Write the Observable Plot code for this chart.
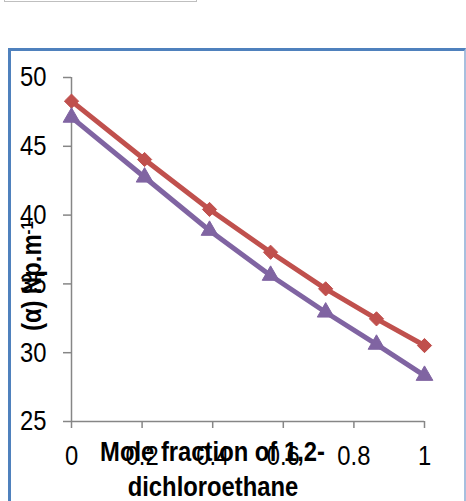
<!DOCTYPE html>
<html><head><meta charset="utf-8">
<script src="https://cdn.jsdelivr.net/npm/d3@7"></script>
<script src="https://cdn.jsdelivr.net/npm/@observablehq/plot@0.6"></script>
<style>
html,body{margin:0;padding:0;background:#fff;}
#wrap{position:relative;width:466px;height:501px;overflow:hidden;background:#fff;}
#wrap svg{position:absolute;left:0;top:0;z-index:1;}
.topbox{position:absolute;left:4px;top:-18px;width:193px;height:20px;border:1.5px solid #bfbfbf;box-sizing:border-box;z-index:2;}
.frame{position:absolute;left:8px;top:48px;width:458px;height:520px;box-sizing:border-box;border-left:3px solid #4f81bd;border-top:3px solid #4f81bd;border-right:2px solid #a7bfde;pointer-events:none;z-index:2;}
</style></head><body><div id="wrap"><div class="topbox"></div><div class="frame"></div></div>
<script>
const moleFraction = [0, 0.207, 0.391, 0.564, 0.720, 0.864, 1];
const alphaRed = [48.28, 44.04, 40.41, 37.30, 34.64, 32.46, 30.52];
const alphaPurple = [47.1, 42.75, 38.88, 35.61, 32.94, 30.60, 28.34];
const xTicks = [0, 0.2, 0.4, 0.6, 0.8, 1];
const yTicks = [25, 30, 35, 40, 45, 50];
const xTitle = ["Mole fraction of 1,2-", "dichloroethane"];
const yTitle = "(α) Np.m";
const yTitleSup = "-1";

const RED = "#c0504d", PURPLE = "#8064a2", AXIS = "#868686";
const redRows = moleFraction.map((x, i) => ({x, y: alphaRed[i]}));
const purpleRows = moleFraction.map((x, i) => ({x, y: alphaPurple[i]}));

const diamond = {
  draw(ctx, size) {
    const r = Math.sqrt(size) * 0.62625;
    ctx.moveTo(0, -r); ctx.lineTo(r, 0); ctx.lineTo(0, r); ctx.lineTo(-r, 0); ctx.closePath();
  }
};

const plot = Plot.plot({
  width: 466, height: 501,
  marginLeft: 71, marginRight: 42, marginTop: 77, marginBottom: 80,
  style: {fontFamily: "'Liberation Sans', Arial, sans-serif", background: "transparent", overflow: "visible"},
  x: {domain: [0, 1]},
  y: {domain: [25, 50]},
  marks: [
    Plot.axisY({ticks: yTicks, tickSize: 8, tickPadding: 17, stroke: AXIS, strokeWidth: 1.5, fill: "black", fontSize: 28, label: null, tickFormat: d => String(d)}),
    Plot.axisX({ticks: xTicks, tickSize: 7, tickPadding: 17, stroke: AXIS, strokeWidth: 1.5, fill: "black", fontSize: 28, label: null, tickFormat: d => String(d)}),
    Plot.ruleX([0], {stroke: AXIS, strokeWidth: 1.5}),
    Plot.ruleY([25], {stroke: AXIS, strokeWidth: 1.5}),
    Plot.line(redRows, {x: "x", y: "y", stroke: RED, strokeWidth: 5}),
    Plot.dot(redRows, {x: "x", y: "y", symbol: diamond, r: 6.4, fill: RED, stroke: RED, strokeWidth: 1}),
    Plot.line(purpleRows, {x: "x", y: "y", stroke: PURPLE, strokeWidth: 5}),
    Plot.dot(purpleRows, {x: "x", y: "y", symbol: "triangle", r: 6.2, fill: PURPLE, stroke: PURPLE, strokeWidth: 1}),
    Plot.text([xTitle[0]], {text: d => d, frameAnchor: "bottom", dx: -35.5, dy: 20, lineAnchor: "top", fontSize: 28, fontWeight: "bold", fill: "black"}),
    Plot.text([xTitle[1]], {text: d => d, frameAnchor: "bottom", dx: -35, dy: 54.5, lineAnchor: "top", fontSize: 28, fontWeight: "bold", fill: "black"}),
    Plot.text([yTitle], {text: d => d, frameAnchor: "left", dx: -33, dy: 27, rotate: -90, lineAnchor: "middle", fontSize: 28, fontWeight: "bold", fill: "black"})
  ]
});

document.getElementById("wrap").appendChild(plot);

let yTitleNode = null;
plot.querySelectorAll("text").forEach(t => {
  if (t.textContent === yTitle) {
    const sp = document.createElementNS("http://www.w3.org/2000/svg", "tspan");
    sp.setAttribute("dy", "-0.45em");
    sp.setAttribute("font-size", "0.62em");
    sp.textContent = yTitleSup;
    t.appendChild(sp);
    yTitleNode = t;
  }
  const L = t.getComputedTextLength();
  if (L > 0) {
    t.setAttribute("textLength", (L * 0.85).toFixed(2));
    t.setAttribute("lengthAdjust", "spacingAndGlyphs");
  }
});

// place the rotated y title so its box is centred where the reference has it
if (yTitleNode) {
  const sr = plot.getBoundingClientRect();
  const b = yTitleNode.getBoundingClientRect();
  const cx = b.left + b.width / 2 - sr.left, cy = b.top + b.height / 2 - sr.top;
  const g = yTitleNode.parentNode;
  g.setAttribute("transform", `translate(${(31 - cx).toFixed(2)},${(276 - cy).toFixed(2)}) ${g.getAttribute("transform") || ""}`);
}
</script></body></html>
